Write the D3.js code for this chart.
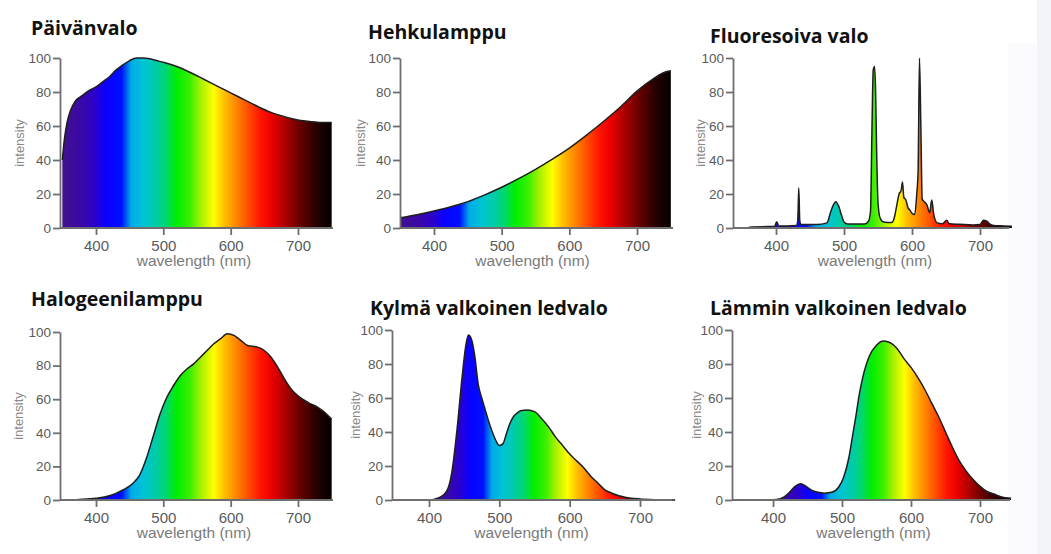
<!DOCTYPE html>
<html>
<head>
<meta charset="utf-8">
<script src="https://cdn.jsdelivr.net/npm/d3@7"></script>
<style>
  body { margin: 0; background: #fff; }
  svg { display: block; }
  .panel-title { font-family: "Open Sans", Lato, sans-serif; font-weight: 700; font-size: 19.5px; fill: #111; }
  .axis path, .axis line { stroke: #6e6e6e; stroke-width: 1.8; }
  .axis text { font-family: "Liberation Sans", Arial, sans-serif; fill: #5a5a5a; }
  .axis-title { font-family: "Liberation Sans", Arial, sans-serif; fill: #7a7a7a; }
</style>
</head>
<body>
<svg id="chart" width="1051" height="554"></svg>
<script>
// chart text and ticks
var titles = ["Päivänvalo", "Hehkulamppu", "Fluoresoiva valo", "Halogeenilamppu", "Kylmä valkoinen ledvalo", "Lämmin valkoinen ledvalo"];
var yTicks = [0, 20, 40, 60, 80, 100];
var xTicks = [400, 500, 600, 700];
var xLabel = "wavelength (nm)";
var yLabel = "intensity";

// spectra: [wavelength nm, intensity]
var daylight = [[350,40],[353,52],[357,62],[362,69],[370,75],[380,78],[390,81],[400,83],[410,86],[420,89],[430,93],[440,96],[450,98.5],[460,100],[470,100],[480,99.5],[490,98.5],[500,97.5],[520,95],[540,91.5],[560,87.5],[580,83.5],[600,79.5],[620,75.5],[640,71.5],[660,68],[680,65.5],[700,63.5],[720,62.5],[740,62],[750,62]];
var incandescent = [[350,6],[375,7.8],[400,10],[425,12.5],[450,15.5],[475,19.5],[500,24],[525,29],[550,34.5],[575,40.5],[600,47],[625,54.5],[650,62.5],[675,71],[700,80.5],[725,88],[740,91.5],[750,92.5]];
var fluorescent = [[360,0.5],[380,0.8],[398,1],[401,3.7],[404,1.2],[430,1.5],[432,4],[433.5,23.5],[435,4],[437,2],[460,2],[475,3],[480,9],[485,14],[488,15.5],[492,13],[496,8],[500,3.5],[505,2.3],[530,2.3],[536,4],[539,10],[541,55],[543,93],[545,95],[546.5,80],[548,45],[550,15],[553,6],[558,3.5],[570,3.2],[574,6],[577,12],[581,20],[584,22],[586,27],[588,18],[591,16.5],[594,12],[597,10.5],[600,8.6],[604,8],[607,20],[609,34],[611,100],[613,60],[615,17],[618,15.5],[622,13.5],[626,9],[629,16.5],[632,8],[637,3],[645,2.5],[651,4.5],[655,2.5],[670,2.2],[690,1.8],[700,2],[705,4.5],[710,4],[714,2.5],[720,1.5],[735,1.2],[747,1]];
var halogen = [[350,0],[375,0.3],[400,1],[420,2.5],[440,6],[455,10],[465,15],[475,25],[485,38],[495,51],[505,61],[515,68],[525,74],[535,78],[545,81],[555,85],[565,89],[575,93],[585,96],[595,99],[605,98],[615,95],[625,92],[640,91],[650,89],[660,85],[670,79],[680,72],[690,66],[700,62],[715,58],[730,55],[740,52],[750,48]];
var coolLed = [[400,0],[408,0.5],[415,1.5],[425,5],[432,15],[440,42],[447,72],[452,90],[456,97],[460,95],[465,85],[470,68],[475,60],[480,53],[485,46],[490,40],[495,35],[500,32],[505,33],[510,39],[515,45],[520,49],[525,51],[530,52.5],[540,53],[550,52],[560,48],[570,43],[580,37],[590,32],[600,27],[610,23],[620,19],[630,14],[640,10],[650,6],[660,4],[670,2.5],[680,1.5],[700,0.6],[720,0.2],[750,0]];
var warmLed = [[393,0],[405,0.3],[415,1.5],[425,5],[432,8],[440,9.5],[448,8],[455,6],[465,4.5],[475,4],[485,4.5],[495,7.5],[502,13],[510,25],[515,37],[520,49],[525,62],[530,72],[540,85],[550,91],[560,93.5],[570,92.5],[580,89],[590,83],[600,78],[610,72],[620,65],[630,57],[640,49],[650,40],[660,31],[670,23],[680,17],[690,12],[700,8],[710,5],[720,3.5],[730,2],[745,1]];

// colour of the rainbow fill, wavelength on a 350..750 reference
var spectrumNm = [350, 380, 400, 415, 438, 452, 470, 490, 505, 520, 540, 555, 575, 590, 605, 625, 645, 660, 680, 700, 725, 750];
var spectrumColor = ["#42118e", "#3808a8", "#2a00d0", "#0a00ff", "#0010ff", "#00aae6", "#00c4d6", "#00cca4", "#00d868", "#00ee00", "#3cf000", "#a2f000", "#ffff00", "#ffc000", "#ff9000", "#ff5000", "#ff1400", "#ee0000", "#b00000", "#700000", "#2c0000", "#000000"];

// pixel layout of each panel
var panels = [
  {data: daylight,     left: 60,  x400: 96,  x700: 298, top: 58,  bottom: 228, right: 333,  titleX: 31,  titleY: 35,  labX: 19},
  {data: incandescent, left: 400, x400: 434, x700: 637, top: 58,  bottom: 228, right: 673,  titleX: 368, titleY: 39,  labX: 360},
  {data: fluorescent,  left: 733, x400: 776, x700: 980, top: 58,  bottom: 228, right: 1009, titleX: 710, titleY: 43,  labX: 700},
  {data: halogen,      left: 60,  x400: 96,  x700: 298, top: 332, bottom: 500, right: 333,  titleX: 31,  titleY: 306, labX: 18},
  {data: coolLed,      left: 392, x400: 429, x700: 640, top: 330, bottom: 500, right: 672,  titleX: 370, titleY: 315, labX: 355},
  {data: warmLed,      left: 732, x400: 773, x700: 980, top: 330, bottom: 500, right: 1010, titleX: 710, titleY: 315, labX: 696}
];

var svg = d3.select("#chart");

// the pale strip on the right edge of the original screenshot
svg.append("rect").attr("x", 1008).attr("y", 43).attr("width", 29).attr("height", 511).attr("fill", "#fbfbfd");
svg.append("rect").attr("x", 1037).attr("y", 0).attr("width", 14).attr("height", 554).attr("fill", "#f3f4f9");

//one gradient for all, spread over each area's own bounding box
var grad = svg.append("defs").append("linearGradient")
    .attr("id", "spectrum")
    .attr("x1", 0).attr("x2", 1).attr("y1", 0).attr("y2", 0);
spectrumNm.forEach(function (nm, i) {
  grad.append("stop")
      .attr("offset", ((nm - 350) / 400 * 100) + "%")
      .attr("stop-color", spectrumColor[i]);
});

panels.forEach(function (p, i) {
  var g = svg.append("g");

  var x = d3.scaleLinear().domain([400, 700]).range([p.x400, p.x700]);
  var y = d3.scaleLinear().domain([0, 100]).range([p.bottom, p.top]);

  var area = d3.area()
      .x(function (d) { return x(d[0]); })
      .y0(p.bottom)
      .y1(function (d) { return y(d[1]); })
      .curve(d3.curveMonotoneX);
  var line = d3.line()
      .x(function (d) { return x(d[0]); })
      .y(function (d) { return y(d[1]); })
      .curve(d3.curveMonotoneX);

  g.append("path")
      .datum(p.data)
      .attr("d", area)
      .attr("fill", "url(#spectrum)");

  g.append("path")
      .datum(p.data)
      .attr("d", line)
      .attr("fill", "none")
      .attr("stroke", "#1e1e1e")
      .attr("stroke-width", 1.5)
      .attr("stroke-linejoin", "round");

  //y axis
  g.append("g")
      .attr("class", "axis")
      .attr("transform", "translate(" + p.left + ",0)")
      .call(d3.axisLeft(y).tickValues(yTicks).tickSize(7).tickSizeOuter(0).tickPadding(2))
      .selectAll("text").style("font-size", "13.5px");

  //x axis, its line runs from the y axis to the right end
  var xa = g.append("g")
      .attr("class", "axis")
      .attr("transform", "translate(0," + p.bottom + ")")
      .call(d3.axisBottom(x).tickValues(xTicks).tickSize(7).tickSizeOuter(0).tickPadding(5));
  xa.select(".domain").remove();
  xa.selectAll("text").style("font-size", "15px");
  xa.append("line")
      .attr("x1", p.left).attr("x2", p.right)
      .attr("y1", 0).attr("y2", 0);

  g.append("text")
      .attr("class", "axis-title")
      .attr("x", x(550) - 3)
      .attr("y", p.bottom + 38)
      .attr("text-anchor", "middle")
      .style("font-size", "15.5px")
      .text(xLabel);

  g.append("text")
      .attr("class", "axis-title")
      .attr("transform", "translate(" + p.labX + "," + ((p.top + p.bottom) / 2) + ")rotate(-90)")
      .attr("text-anchor", "middle")
      .attr("dy", "0.35em")
      .style("font-size", "13px")
      .style("fill", "#8a8a8a")
      .text(yLabel);

  g.append("text")
      .attr("class", "panel-title")
      .attr("x", p.titleX)
      .attr("y", p.titleY)
      .text(titles[i]);
});
</script>
</body>
</html>
